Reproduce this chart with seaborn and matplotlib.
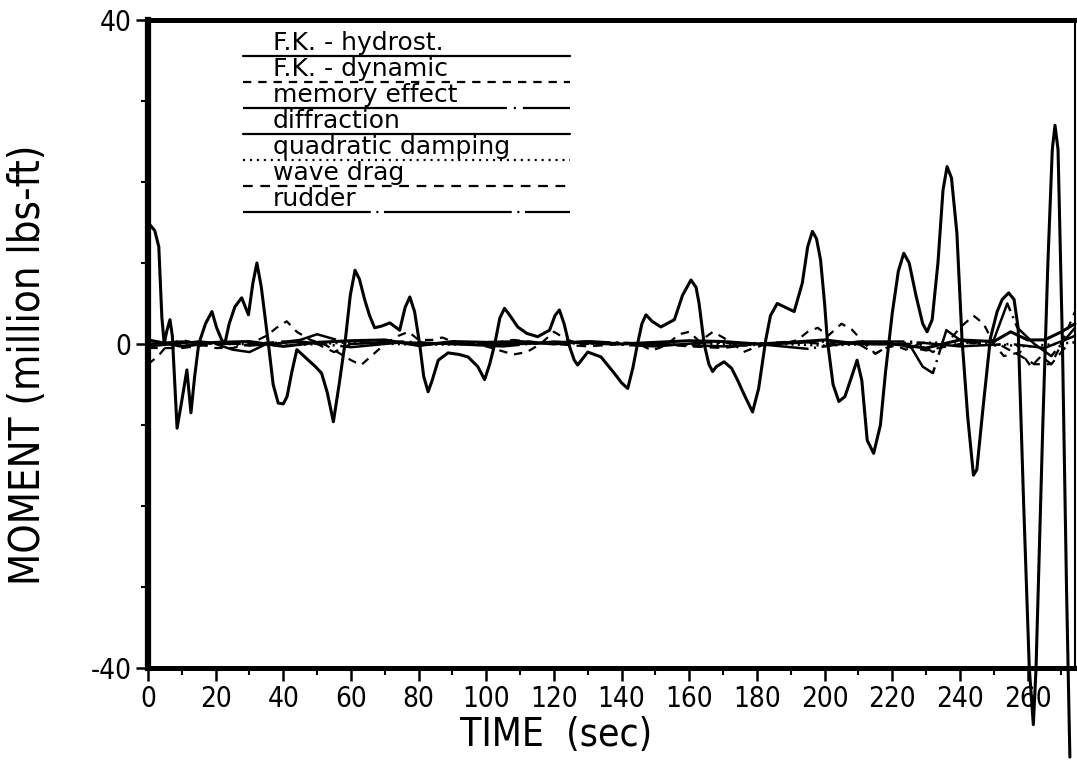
import numpy as np
import pandas as pd
import seaborn as sns
import matplotlib.pyplot as plt

# ---- data (time in sec, moment in million lbs-ft) ----
hydrost_pts = [
    (0, 15), (2, 14), (3.2, 12), (4.1, 3.3), (4.8, 0), (5.5, 1.5), (6.5, 3), (7.2, 1),
    (8.6, -10.4), (10, -7), (11.5, -3.2), (12.7, -8.5), (13.8, -4), (15, 0), (17, 2.5),
    (18.9, 4), (20.3, 2), (21.8, 0.5), (22.7, 0), (24, 2.5), (25.7, 4.6), (27.7, 5.7),
    (29.7, 3.6), (31, 7.5), (32.2, 10), (33.5, 7), (35.6, 0), (37, -5), (38.5, -7.3),
    (40, -7.4), (41.1, -6.5), (42.5, -3.5), (44, -0.7), (47.4, -2), (49.5, -2.8),
    (51.3, -3.6), (53, -6), (54.8, -9.6), (56.5, -5), (58.2, 0), (59.8, 6), (61.2, 9.1),
    (62.5, 8), (64.1, 5.4), (65.5, 3.5), (67, 2), (69, 2.2), (71.5, 2.6), (74.4, 1.7),
    (76, 4.5), (77.4, 5.8), (78.8, 4), (80.3, 0), (81.5, -4), (82.8, -5.9), (84, -4.5),
    (85.8, -2), (88.7, -1.1), (92, -1.3), (94.6, -1.6), (97.5, -2.8), (99.5, -4.4),
    (101, -2.5), (102.5, 0), (104, 3.2), (105.4, 4.4), (107, 3.5), (109.3, 2.1),
    (112, 1.3), (115.2, 0.9), (118.7, 1.7), (120.3, 3.5), (121.6, 4.2), (123, 2.5),
    (124.6, -0.3), (126, -2), (127, -2.6), (128.5, -1.8), (130, -1), (133.9, -1.6),
    (137.8, -3.6), (140, -4.8), (141.8, -5.5), (143.3, -3), (144.7, 0), (146, 2.5),
    (147.2, 3.6), (149, 2.8), (151.6, 2.1), (155.6, 3), (158, 6), (160.5, 7.9), (162, 7),
    (162.9, 5), (164.4, 0), (165.8, -2.5), (166.9, -3.4), (168, -2.8), (170.3, -2.2),
    (172.5, -3), (174.2, -4.4), (176.5, -6.5), (178.7, -8.4), (180.5, -5.5), (182.6, 0.5),
    (184, 3.5), (186, 5), (188.5, 4.5), (191, 4), (193.4, 7.5), (195, 12), (196.4, 13.9),
    (197.6, 13), (198.8, 10.4), (200, 5), (200.8, 0.5), (202.5, -5), (204.2, -7.1),
    (206, -6.5), (207.7, -4.4), (209.6, -2), (211, -4.5), (212.6, -11.9), (214.5, -13.5),
    (216.5, -10), (218, -3.5), (220, 3.8), (221.8, 9), (223.4, 11.2), (225, 10), (227, 6),
    (229, 2.5), (230.3, 1.5), (231.8, 3), (233.5, 10), (235, 19), (236.2, 21.9),
    (237.5, 20.5), (239.1, 13.7), (240.6, 0.7), (242.3, -9), (244, -16.2), (245, -15.5),
    (246.8, -8), (249, 0.7), (251, 4), (252.5, 5.5), (254.4, 6.3), (256, 5.5), (257.2, 2),
    (258.8, -19.3), (260.5, -40), (261.7, -47), (262.5, -40), (264.5, -10), (266, 10),
    (267.3, 24), (268.1, 27), (269, 24), (270.3, 0), (271.5, -30), (272.5, -51),
]

dynamic_t = [0, 3, 6, 10, 15, 20, 25, 30, 35, 38, 41, 44, 48, 52, 56, 60, 63, 66, 70, 74,
             77, 80, 84, 87, 90, 95, 100, 104, 108, 112, 116, 120, 124, 128, 135, 140, 145,
             149, 153, 157, 160, 163, 167, 170, 173, 176, 179, 183, 188, 192, 195, 198, 201,
             205, 208, 212, 215, 218, 221, 224, 228, 232, 236, 240, 244, 247, 250, 253, 258,
             261, 264, 267, 270, 274]
dynamic_v = [-2.5, -1.5, 0, 0.5, 0, -0.5, -0.5, 0, 1, 2, 2.8, 1.5, 0.5, 0, -1, -2, -2.6, -1.5,
             0, 1, 1.5, 0.5, 0.5, 0.8, 0.3, 0, -0.3, -0.8, -1.3, -1, 0, 1.5, 0.5, 0, 0, 0.2, 0,
             -0.8, -0.2, 1.2, 1.5, 0.3, 1.5, 0.8, 0, -1, -0.5, 0, 0, 0.5, 1.5, 2, 1, 2.5, 1.8,
             0, -1.2, -0.5, -0.2, -0.7, 0, -1, 0, 2, 3.5, 2.5, 0, -1.5, -1, -2.8, -1.5, -2.5,
             0, 4]

memory_t = [0, 15, 30, 45, 60, 75, 90, 105, 120, 135, 150, 165, 180, 195, 210, 225, 240,
            255, 265, 274]
memory_v = [-0.3, 0.3, -0.2, 0.3, -0.4, 0.2, 0, -0.3, 0.3, 0, -0.3, 0.2, 0, -0.6, 0.3, 0.3,
            -0.3, 0, -0.5, 1]

diffr_t = [0, 10, 20, 30, 40, 50, 60, 70, 80, 90, 100, 110, 120, 130, 140, 150, 160, 170,
           180, 190, 200, 210, 220, 230, 240, 250, 255, 260, 265, 270, 274]
diffr_v = [0.5, -0.3, 0.2, 0.3, -0.3, 0.2, 0.4, 0.5, -0.2, 0.3, 0.2, 0.3, 0, 0.3, 0, 0.2,
           0.4, 0.3, 0, 0.2, 0.5, 0, 0, -0.5, 0.5, 0.3, 1.5, 0.5, 0.5, 1.5, 2.5]

quad_t = [0, 20, 40, 60, 80, 100, 120, 140, 160, 180, 200, 220, 240, 260, 274]
quad_v = [0, 0.1, -0.2, 0.2, -0.1, 0, 0.1, 0, -0.1, 0.1, -0.2, 0.1, 0.2, -0.3, 0.2]

drag_t = [0, 10, 20, 30, 40, 50, 55, 60, 70, 80, 90, 100, 108, 120, 130, 140, 150, 160, 170,
          180, 190, 200, 210, 215, 220, 230, 240, 250, 258, 262, 267, 272]
drag_v = [-0.5, -0.5, 0, 0, 0.3, 0, -1, 0, 0.3, 0, 0, 0, 0.5, 0, -0.3, 0, 0, -0.3, -0.5, 0,
          0.3, 0, 0, -1.2, 0, -0.8, 0, 0.3, -1.5, -2.5, -2.5, 0]

rudder_t = [0, 10, 20, 25, 30, 35, 45, 50, 60, 75, 90, 110, 130, 150, 170, 185, 200, 215,
            225, 229, 232, 236, 240, 245, 250, 254, 257, 262, 267, 274]
rudder_v = [0, 0.3, 0, -0.7, -1, 0, 0.5, 1.2, 0, 0.3, 0, 0, 0.3, 0, -0.3, 0, 0.3, 0, 0,
            -2.8, -3.6, 1.7, 0.5, 0, 0.5, 5, 2, 0, -1.5, 2]

labels = ["F.K. - hydrost.", "F.K. - dynamic", "memory effect", "diffraction",
          "quadratic damping", "wave drag", "rudder"]

x_major = list(range(0, 261, 20))
x_minor = list(range(10, 271, 10))
y_major = [-40, 0, 40]
y_minor = [-30, -20, -10, 10, 20, 30]

# ---- style ----
sns.set_style("white")
plt.rcParams['font.family'] = ['DejaVu Sans']
plt.rcParams['font.stretch'] = 'condensed'
plt.rcParams['axes.unicode_minus'] = False
plt.rcParams['lines.scale_dashes'] = False

fig = plt.figure(figsize=(10.77, 7.62), dpi=100)
ax = fig.add_axes([0.1374, 0.1234, 0.8607, 0.8504])

hyd = pd.DataFrame(hydrost_pts, columns=["t", "v"])

# small contributions first, big hydrostatic curve on top
small = [
    (dynamic_t, dynamic_v, (0, (6, 5)), 1.6),
    (memory_t, memory_v, (0, (60, 4, 1.5, 4)), 1.8),
    (diffr_t, diffr_v, '-', 2.2),
    (quad_t, quad_v, (0, (1.5, 3)), 1.8),
    (drag_t, drag_v, (0, (7, 5)), 1.6),
    (rudder_t, rudder_v, (0, (40, 4, 1.5, 4)), 1.8),
]
for t, v, ls, lw in small:
    sns.lineplot(x=t, y=v, ax=ax, color='black', linestyle=ls, linewidth=lw,
                 estimator=None, clip_on=False)

sns.lineplot(data=hyd, x="t", y="v", ax=ax, color='black', linewidth=2.2,
             estimator=None, clip_on=False)

ax.set_xlim(0, 274)
ax.set_ylim(-40, 40)
ax.set_xticks(x_major)
ax.set_xticks(x_minor, minor=True)
ax.set_yticks(y_major)
ax.set_yticks(y_minor, minor=True)
ax.tick_params(which='major', direction='out', length=9, width=1.8, labelsize=20,
               bottom=True, left=True, pad=3, colors='black')
ax.tick_params(which='minor', direction='out', length=5, width=1.5,
               bottom=True, left=True, colors='black')

for side, lw in [('left', 4.5), ('bottom', 3.6), ('top', 3.6), ('right', 1.5)]:
    ax.spines[side].set_visible(True)
    ax.spines[side].set_color('black')
    ax.spines[side].set_linewidth(lw)

ax.set_xlabel("TIME  (sec)", fontsize=28, color='black')
ax.set_ylabel("MOMENT (million lbs-ft)", fontsize=30, color='black')
ax.xaxis.set_label_coords(0.44, -0.074)
ax.yaxis.set_label_coords(-0.107, 0.468)

# legend drawn as in the original: label text sitting on its line sample
legend_styles = ['-', (0, (6, 5)), (0, (190, 5, 1.5, 5)), '-', (0, (1.5, 3.5)),
                 (0, (7, 5.5)), (0, (92, 4, 1.5, 4))]
for i, (lab, ls) in enumerate(zip(labels, legend_styles)):
    yf = (668 - (56 + 26 * i)) / 648
    ax.plot([0.1025, 0.4552], [yf, yf], transform=ax.transAxes, color='black',
            linewidth=1.6, linestyle=ls)
    ax.text(0.1348, yf + 0.002, lab, transform=ax.transAxes, fontsize=18,
            fontstretch='normal', ha='left', va='bottom', color='black')

fig.savefig("out.png", dpi=100)
